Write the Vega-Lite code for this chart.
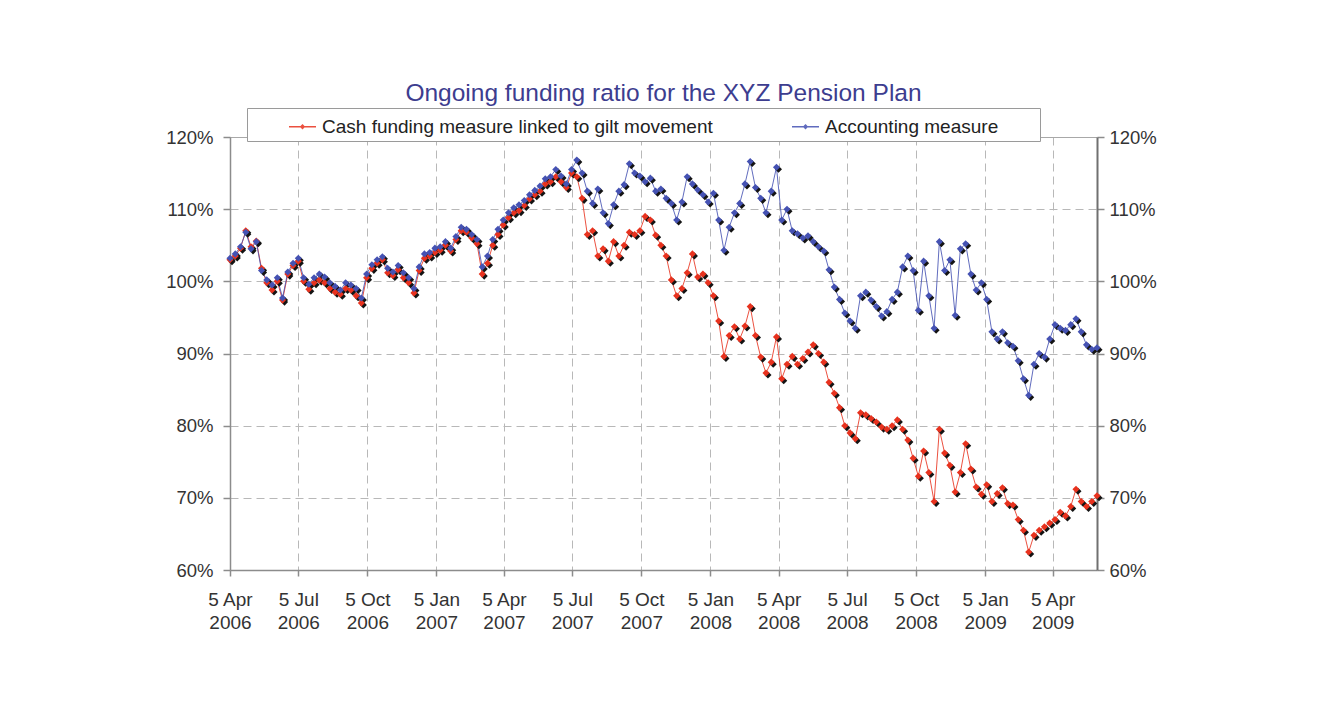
{
  "$schema": "https://vega.github.io/schema/vega-lite/v6.json",
  "width": 867,
  "height": 433,
  "autosize": {"type": "none"},
  "padding": {"left": 230, "top": 137, "right": 224, "bottom": 154},
  "background": "white",
  "config": {
    "view": {"stroke": null},
    "font": "Liberation Sans",
    "axis": {
      "labelFont": "Liberation Sans",
      "labelColor": "#333333",
      "labelFontSize": 18.5,
      "domainColor": "#8c8c8c",
      "domainWidth": 1.5,
      "tickColor": "#8c8c8c",
      "tickWidth": 1.5,
      "gridColor": "#b8b8b8",
      "gridDash": [8, 5],
      "gridWidth": 1
    }
  },
  "title": {
    "text": "Ongoing funding ratio for the XYZ Pension Plan",
    "fontSize": 24.5,
    "font": "Liberation Sans",
    "fontWeight": "normal",
    "color": "#3d3d8f",
    "anchor": "middle",
    "frame": "group",
    "offset": 1
  },
  "data": {
    "values": [
      {"date": "2006-04-05", "cash": 103.0, "acct": 103.2},
      {"date": "2006-04-12", "cash": 103.5, "acct": 103.8},
      {"date": "2006-04-19", "cash": 104.6, "acct": 104.8},
      {"date": "2006-04-26", "cash": 107.0, "acct": 106.8},
      {"date": "2006-05-03", "cash": 104.8, "acct": 104.5},
      {"date": "2006-05-10", "cash": 105.6, "acct": 105.5},
      {"date": "2006-05-17", "cash": 101.8, "acct": 101.5},
      {"date": "2006-05-24", "cash": 99.8, "acct": 100.2},
      {"date": "2006-05-31", "cash": 98.8, "acct": 99.5},
      {"date": "2006-06-07", "cash": 100.0, "acct": 100.5},
      {"date": "2006-06-14", "cash": 97.4, "acct": 97.7},
      {"date": "2006-06-21", "cash": 101.0, "acct": 101.3},
      {"date": "2006-06-28", "cash": 102.2, "acct": 102.5},
      {"date": "2006-07-05", "cash": 102.8, "acct": 103.2},
      {"date": "2006-07-12", "cash": 100.0, "acct": 100.5},
      {"date": "2006-07-19", "cash": 98.9, "acct": 99.6},
      {"date": "2006-07-26", "cash": 99.8, "acct": 100.5},
      {"date": "2006-08-02", "cash": 100.2, "acct": 101.0},
      {"date": "2006-08-09", "cash": 99.8, "acct": 100.6},
      {"date": "2006-08-16", "cash": 99.0, "acct": 99.8},
      {"date": "2006-08-23", "cash": 98.5, "acct": 99.3},
      {"date": "2006-08-30", "cash": 98.2, "acct": 98.8},
      {"date": "2006-09-06", "cash": 99.0, "acct": 99.8},
      {"date": "2006-09-13", "cash": 98.8, "acct": 99.5},
      {"date": "2006-09-20", "cash": 98.0, "acct": 99.0},
      {"date": "2006-09-27", "cash": 97.0, "acct": 97.7},
      {"date": "2006-10-04", "cash": 100.5, "acct": 101.0},
      {"date": "2006-10-11", "cash": 101.8, "acct": 102.3},
      {"date": "2006-10-18", "cash": 102.5, "acct": 103.0},
      {"date": "2006-10-25", "cash": 103.0, "acct": 103.4},
      {"date": "2006-11-01", "cash": 101.2, "acct": 101.8},
      {"date": "2006-11-08", "cash": 100.8, "acct": 101.3},
      {"date": "2006-11-15", "cash": 101.6, "acct": 102.2},
      {"date": "2006-11-22", "cash": 100.5, "acct": 101.2},
      {"date": "2006-11-29", "cash": 99.8, "acct": 100.5},
      {"date": "2006-12-06", "cash": 98.4, "acct": 99.0},
      {"date": "2006-12-13", "cash": 101.5, "acct": 102.0},
      {"date": "2006-12-20", "cash": 103.2, "acct": 103.8},
      {"date": "2006-12-27", "cash": 103.5, "acct": 104.0},
      {"date": "2007-01-03", "cash": 104.0, "acct": 104.6},
      {"date": "2007-01-10", "cash": 104.3, "acct": 104.8},
      {"date": "2007-01-17", "cash": 105.0, "acct": 105.5},
      {"date": "2007-01-24", "cash": 104.2, "acct": 104.6},
      {"date": "2007-01-31", "cash": 105.8, "acct": 106.2},
      {"date": "2007-02-07", "cash": 107.0, "acct": 107.5},
      {"date": "2007-02-14", "cash": 106.8, "acct": 107.2},
      {"date": "2007-02-21", "cash": 106.0, "acct": 106.5},
      {"date": "2007-02-28", "cash": 105.2, "acct": 105.8},
      {"date": "2007-03-07", "cash": 101.0, "acct": 102.0},
      {"date": "2007-03-14", "cash": 102.5, "acct": 103.5},
      {"date": "2007-03-21", "cash": 105.0, "acct": 105.8},
      {"date": "2007-03-28", "cash": 106.5, "acct": 107.2},
      {"date": "2007-04-04", "cash": 107.8, "acct": 108.5},
      {"date": "2007-04-11", "cash": 108.8, "acct": 109.5},
      {"date": "2007-04-18", "cash": 109.5, "acct": 110.2},
      {"date": "2007-04-25", "cash": 109.8, "acct": 110.6},
      {"date": "2007-05-02", "cash": 110.5, "acct": 111.2},
      {"date": "2007-05-09", "cash": 111.4, "acct": 112.0},
      {"date": "2007-05-16", "cash": 112.0, "acct": 112.6},
      {"date": "2007-05-23", "cash": 112.5, "acct": 113.2},
      {"date": "2007-05-30", "cash": 113.5, "acct": 114.2},
      {"date": "2007-06-06", "cash": 113.8, "acct": 114.5},
      {"date": "2007-06-13", "cash": 114.5, "acct": 115.5},
      {"date": "2007-06-20", "cash": 113.8, "acct": 114.6},
      {"date": "2007-06-27", "cash": 113.0, "acct": 113.5},
      {"date": "2007-07-04", "cash": 115.0, "acct": 115.5},
      {"date": "2007-07-11", "cash": 114.5, "acct": 116.8},
      {"date": "2007-07-18", "cash": 111.5, "acct": 115.0},
      {"date": "2007-07-25", "cash": 106.5, "acct": 112.5},
      {"date": "2007-08-01", "cash": 107.0, "acct": 110.8},
      {"date": "2007-08-08", "cash": 103.5, "acct": 112.8},
      {"date": "2007-08-15", "cash": 104.5, "acct": 109.5},
      {"date": "2007-08-22", "cash": 102.8, "acct": 108.0},
      {"date": "2007-08-29", "cash": 105.5, "acct": 110.6},
      {"date": "2007-09-05", "cash": 103.5, "acct": 112.5},
      {"date": "2007-09-12", "cash": 105.0, "acct": 113.4},
      {"date": "2007-09-19", "cash": 106.8, "acct": 116.3},
      {"date": "2007-09-26", "cash": 106.5, "acct": 115.0},
      {"date": "2007-10-03", "cash": 107.0, "acct": 114.6},
      {"date": "2007-10-10", "cash": 109.0, "acct": 113.8},
      {"date": "2007-10-17", "cash": 108.5, "acct": 114.3},
      {"date": "2007-10-24", "cash": 106.4, "acct": 112.5},
      {"date": "2007-10-31", "cash": 105.0, "acct": 112.8},
      {"date": "2007-11-07", "cash": 103.5, "acct": 111.5},
      {"date": "2007-11-14", "cash": 100.2, "acct": 110.8},
      {"date": "2007-11-21", "cash": 98.0, "acct": 108.5},
      {"date": "2007-11-28", "cash": 99.0, "acct": 111.0},
      {"date": "2007-12-05", "cash": 101.2, "acct": 114.5},
      {"date": "2007-12-12", "cash": 103.8, "acct": 113.5},
      {"date": "2007-12-19", "cash": 100.6, "acct": 112.7},
      {"date": "2007-12-26", "cash": 101.0, "acct": 112.0},
      {"date": "2008-01-02", "cash": 99.8, "acct": 111.0},
      {"date": "2008-01-09", "cash": 98.0, "acct": 112.2},
      {"date": "2008-01-16", "cash": 94.5, "acct": 108.5},
      {"date": "2008-01-23", "cash": 89.6, "acct": 104.3},
      {"date": "2008-01-30", "cash": 92.5, "acct": 107.5},
      {"date": "2008-02-06", "cash": 93.7, "acct": 109.5},
      {"date": "2008-02-13", "cash": 92.0, "acct": 110.8},
      {"date": "2008-02-20", "cash": 93.8, "acct": 113.5},
      {"date": "2008-02-27", "cash": 96.5, "acct": 116.6},
      {"date": "2008-03-05", "cash": 92.5, "acct": 113.0},
      {"date": "2008-03-12", "cash": 89.5, "acct": 111.5},
      {"date": "2008-03-19", "cash": 87.3, "acct": 109.5},
      {"date": "2008-03-26", "cash": 88.8, "acct": 112.5},
      {"date": "2008-04-02", "cash": 92.3, "acct": 115.8},
      {"date": "2008-04-09", "cash": 86.5, "acct": 108.5},
      {"date": "2008-04-16", "cash": 88.5, "acct": 110.0},
      {"date": "2008-04-23", "cash": 89.6, "acct": 107.0},
      {"date": "2008-04-30", "cash": 88.5, "acct": 106.6},
      {"date": "2008-05-07", "cash": 89.3, "acct": 106.0},
      {"date": "2008-05-14", "cash": 90.2, "acct": 106.3},
      {"date": "2008-05-21", "cash": 91.2, "acct": 105.5},
      {"date": "2008-05-28", "cash": 90.0, "acct": 104.8},
      {"date": "2008-06-04", "cash": 88.8, "acct": 104.2},
      {"date": "2008-06-11", "cash": 86.0, "acct": 101.6},
      {"date": "2008-06-18", "cash": 84.5, "acct": 99.2},
      {"date": "2008-06-25", "cash": 82.5, "acct": 97.5},
      {"date": "2008-07-02", "cash": 80.0, "acct": 95.6},
      {"date": "2008-07-09", "cash": 79.0, "acct": 94.5},
      {"date": "2008-07-16", "cash": 78.2, "acct": 93.5},
      {"date": "2008-07-23", "cash": 81.8, "acct": 98.0},
      {"date": "2008-07-30", "cash": 81.5, "acct": 98.5},
      {"date": "2008-08-06", "cash": 81.0, "acct": 97.4},
      {"date": "2008-08-13", "cash": 80.5, "acct": 96.5},
      {"date": "2008-08-20", "cash": 79.8, "acct": 95.2},
      {"date": "2008-08-27", "cash": 79.5, "acct": 95.8},
      {"date": "2008-09-03", "cash": 80.0, "acct": 97.5},
      {"date": "2008-09-10", "cash": 80.8, "acct": 98.5},
      {"date": "2008-09-17", "cash": 79.5, "acct": 102.0},
      {"date": "2008-09-24", "cash": 78.0, "acct": 103.5},
      {"date": "2008-10-01", "cash": 75.5, "acct": 101.5},
      {"date": "2008-10-08", "cash": 73.0, "acct": 96.0},
      {"date": "2008-10-15", "cash": 76.5, "acct": 102.8},
      {"date": "2008-10-22", "cash": 73.5, "acct": 98.0},
      {"date": "2008-10-29", "cash": 69.5, "acct": 93.5},
      {"date": "2008-11-05", "cash": 79.5, "acct": 105.5},
      {"date": "2008-11-12", "cash": 76.2, "acct": 101.5},
      {"date": "2008-11-19", "cash": 74.5, "acct": 103.0},
      {"date": "2008-11-26", "cash": 70.8, "acct": 95.3},
      {"date": "2008-12-03", "cash": 73.5, "acct": 104.5},
      {"date": "2008-12-10", "cash": 77.5, "acct": 105.2},
      {"date": "2008-12-17", "cash": 74.0, "acct": 101.0},
      {"date": "2008-12-24", "cash": 71.5, "acct": 98.8},
      {"date": "2008-12-31", "cash": 70.5, "acct": 99.8},
      {"date": "2009-01-07", "cash": 71.8, "acct": 97.5},
      {"date": "2009-01-14", "cash": 69.5, "acct": 93.0},
      {"date": "2009-01-21", "cash": 70.6, "acct": 92.0},
      {"date": "2009-01-28", "cash": 71.4, "acct": 93.0},
      {"date": "2009-02-04", "cash": 69.2, "acct": 91.5},
      {"date": "2009-02-11", "cash": 69.0, "acct": 91.0},
      {"date": "2009-02-18", "cash": 67.0, "acct": 89.0},
      {"date": "2009-02-25", "cash": 65.5, "acct": 86.5},
      {"date": "2009-03-04", "cash": 62.5, "acct": 84.2},
      {"date": "2009-03-11", "cash": 64.8, "acct": 88.5},
      {"date": "2009-03-18", "cash": 65.5, "acct": 90.0},
      {"date": "2009-03-25", "cash": 66.0, "acct": 89.5},
      {"date": "2009-04-01", "cash": 66.5, "acct": 92.0},
      {"date": "2009-04-08", "cash": 67.0, "acct": 94.0},
      {"date": "2009-04-15", "cash": 68.0, "acct": 93.5},
      {"date": "2009-04-22", "cash": 67.5, "acct": 93.2},
      {"date": "2009-04-29", "cash": 68.8, "acct": 94.0},
      {"date": "2009-05-06", "cash": 71.2, "acct": 94.8},
      {"date": "2009-05-13", "cash": 69.5, "acct": 93.0},
      {"date": "2009-05-20", "cash": 68.8, "acct": 91.2},
      {"date": "2009-05-27", "cash": 69.5, "acct": 90.6},
      {"date": "2009-06-03", "cash": 70.3, "acct": 90.8}
    ]
  },
  "transform": [{"fold": ["cash", "acct"], "as": ["measure", "ratio"]}],
  "encoding": {
    "color": {
      "field": "measure",
      "type": "nominal",
      "scale": {"domain": ["cash", "acct"], "range": ["#e8321e", "#4552b3"]},
      "legend": {
        "orient": "none",
        "legendX": 17,
        "legendY": -29,
        "direction": "horizontal",
        "columns": 2,
        "title": null,
        "padding": 4,
        "strokeColor": "#9a9a9a",
        "fillColor": "white",
        "symbolType": "M-1,0L1,0M0,-0.12L0.12,0L0,0.12L-0.12,0Z",
        "symbolSize": 729,
        "symbolStrokeWidth": 1.5,
        "symbolOffset": 37,
        "labelFontSize": 19,
        "labelFont": "Liberation Sans",
        "labelColor": "#222222",
        "labelOffset": 5,
        "labelLimit": 700,
        "columnPadding": 41,
        "labelExpr": "datum.label == 'acct' ? 'Accounting measure\u00a0\u00a0\u00a0\u00a0\u00a0\u00a0\u00a0\u200b' : 'Cash funding measure linked to gilt movement'"
      }
    }
  },
  "layer": [
    {
      "mark": {"type": "line", "strokeWidth": 1, "opacity": 0.85},
      "encoding": {
        "x": {
          "field": "date",
          "type": "temporal",
          "title": null,
          "scale": {"domain": [{"year": 2006, "month": 4, "date": 5, "utc": true}, {"year": 2009, "month": 6, "date": 3, "utc": true}]},
          "axis": {
            "orient": "bottom",
            "values": [
              {"year": 2006, "month": 4, "date": 5, "utc": true},
              {"year": 2006, "month": 7, "date": 5, "utc": true},
              {"year": 2006, "month": 10, "date": 5, "utc": true},
              {"year": 2007, "month": 1, "date": 5, "utc": true},
              {"year": 2007, "month": 4, "date": 5, "utc": true},
              {"year": 2007, "month": 7, "date": 5, "utc": true},
              {"year": 2007, "month": 10, "date": 5, "utc": true},
              {"year": 2008, "month": 1, "date": 5, "utc": true},
              {"year": 2008, "month": 4, "date": 5, "utc": true},
              {"year": 2008, "month": 7, "date": 5, "utc": true},
              {"year": 2008, "month": 10, "date": 5, "utc": true},
              {"year": 2009, "month": 1, "date": 5, "utc": true},
              {"year": 2009, "month": 4, "date": 5, "utc": true}
            ],
            "labelExpr": "[utcFormat(datum.value, '%-d %b'), utcFormat(datum.value, '%Y')]",
            "labelFontSize": 19,
            "labelLineHeight": 23.5,
            "tickSize": 6,
            "labelPadding": 14,
            "grid": true,
            "labelFlush": false,
            "labelOverlap": false
          }
        },
        "y": {
          "field": "ratio",
          "type": "quantitative",
          "title": null,
          "scale": {"domain": [60, 120]},
          "axis": {
            "orient": "left",
            "values": [60, 70, 80, 90, 100, 110, 120],
            "labelExpr": "datum.value + '%'",
            "grid": true,
            "tickSize": 7,
            "labelPadding": 10
          }
        }
      }
    },
    {
      "mark": {"type": "point", "shape": "diamond", "filled": true, "size": 50, "opacity": 1, "xOffset": 2, "yOffset": 2},
      "encoding": {
        "x": {"field": "date", "type": "temporal", "axis": null},
        "y": {"field": "ratio", "type": "quantitative", "axis": null},
        "color": {"value": "#141414"},
        "order": {"field": "measure", "sort": "descending"}
      }
    },
    {
      "mark": {"type": "point", "shape": "diamond", "filled": true, "size": 50, "opacity": 1},
      "encoding": {
        "x": {
          "field": "date",
          "type": "temporal",
          "title": null,
          "axis": {"orient": "top", "labels": false, "ticks": false, "grid": false, "domainColor": "#a8a8a8", "domainWidth": 1}
        },
        "y": {
          "field": "ratio",
          "type": "quantitative",
          "title": null,
          "axis": {
            "orient": "right",
            "values": [60, 70, 80, 90, 100, 110, 120],
            "labelExpr": "datum.value + '%'",
            "grid": false,
            "tickSize": 7,
            "labelPadding": 5,
            "domainColor": "#707070",
            "domainWidth": 2
          }
        },
        "order": {"field": "measure", "sort": "descending"}
      }
    }
  ],
  "resolve": {"axis": {"x": "independent", "y": "independent"}}
}
